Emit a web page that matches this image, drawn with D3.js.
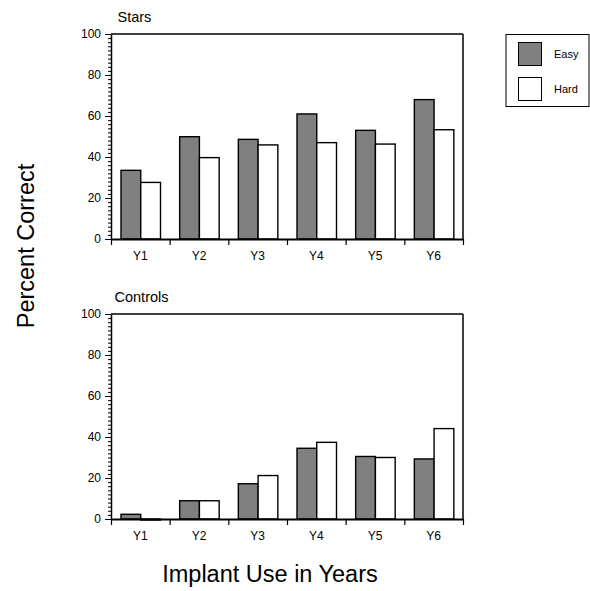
<!DOCTYPE html>
<html><head><meta charset="utf-8">
<script src="https://cdn.jsdelivr.net/npm/d3@7"></script>
<style>body{margin:0;background:#fff}svg{display:block}text{font-family:"Liberation Sans",Arial,sans-serif}</style>
</head><body><div id="chart"></div>
<script>
const categories = ["Y1","Y2","Y3","Y4","Y5","Y6"];
const seriesNames = ["Easy","Hard"];
const starsEasy = [33.5, 49.9, 48.6, 61.0, 53.0, 68.0];
const starsHard = [27.6, 39.7, 45.9, 47.0, 46.3, 53.3];
const controlsEasy = [2.3, 8.9, 17.2, 34.5, 30.5, 29.3];
const controlsHard = [-0.5, 8.9, 21.2, 37.4, 30.0, 44.1];
const yTicks = [0, 20, 40, 60, 80, 100];
const panelTitles = ["Stars", "Controls"];
const colors = {Easy: "#808080", Hard: "#ffffff"};

const W = 590, H = 591;
const svg = d3.select("#chart").append("svg").attr("width", W).attr("height", H);

const left = 111, right = 463;
const panels = [
  {title: panelTitles[0], easy: starsEasy, hard: starsHard, top: 34, bottom: 239, titleX: 117.5, titleY: 22},
  {title: panelTitles[1], easy: controlsEasy, hard: controlsHard, top: 314, bottom: 519, titleX: 114.5, titleY: 302}
];

const x = d3.scaleBand().domain(categories).range([left, right]).paddingInner(0).paddingOuter(0);
const xIdx = d3.scaleLinear().domain([0, categories.length]).range([left, right]);
const xs = d3.scaleBand().domain(seriesNames).range([10, 10 + 39.5]).padding(0);

panels.forEach(p => {
  const y = d3.scaleLinear().domain([0, 100]).range([p.bottom, p.top]);
  const g = svg.append("g");

  // frame top & right
  g.append("line").attr("x1", left).attr("x2", right).attr("y1", y(100)).attr("y2", y(100)).attr("stroke", "#000").attr("stroke-width", 1.5);
  g.append("line").attr("x1", right).attr("x2", right).attr("y1", y(100)).attr("y2", y(0)).attr("stroke", "#000").attr("stroke-width", 1.5);

  // bars
  const data = [];
  categories.forEach((c, i) => {
    data.push({c, s: "Easy", v: p.easy[i]});
    data.push({c, s: "Hard", v: p.hard[i]});
  });
  g.selectAll("rect.bar").data(data).join("rect")
    .attr("class", "bar")
    .attr("x", d => x(d.c) + xs(d.s))
    .attr("width", xs.bandwidth())
    .attr("y", d => y(Math.max(0, d.v)))
    .attr("height", d => Math.abs(y(d.v) - y(0)))
    .attr("fill", d => colors[d.s])
    .attr("stroke", "#000").attr("stroke-width", 1.4);

  // minor y ticks
  const minor = d3.range(0, 101, 2);
  const yMinor = g.append("g").attr("transform", `translate(${left},0)`)
    .call(d3.axisLeft(y).tickValues(minor).tickSize(3).tickFormat(""));
  yMinor.select(".domain").remove();
  yMinor.selectAll("line").attr("stroke-width", 1);

  // major y axis
  const yAx = g.append("g").attr("transform", `translate(${left},0)`)
    .call(d3.axisLeft(y).tickValues(yTicks).tickSize(6).tickPadding(4).tickSizeOuter(0));
  yAx.select(".domain").attr("stroke-width", 1.5);
  yAx.selectAll("text").attr("font-size", 12).attr("fill", "#000").attr("font-family", '"Liberation Sans",Arial,sans-serif');

  // x axis boundary ticks
  const xAx = g.append("g").attr("transform", `translate(0,${y(0)})`)
    .call(d3.axisBottom(xIdx).tickValues(d3.range(0, categories.length + 1)).tickSize(6).tickFormat("").tickSizeOuter(0));
  xAx.select(".domain").attr("stroke-width", 2);
  xAx.selectAll("line").attr("stroke-width", 1.2);

  // x labels
  const xLab = g.append("g").attr("transform", `translate(0,${y(0)})`)
    .call(d3.axisBottom(x).tickSize(0).tickPadding(12));
  xLab.select(".domain").remove();
  xLab.selectAll("text").attr("font-size", 12).attr("fill", "#000").attr("font-family", '"Liberation Sans",Arial,sans-serif');

  // title
  g.append("text").attr("x", p.titleX).attr("y", p.titleY).attr("font-size", 14.5).text(p.title);
});

// axis titles
svg.append("text").attr("transform", "translate(34,246) rotate(-90)").attr("text-anchor", "middle")
  .attr("font-size", 23.5).text("Percent Correct");
svg.append("text").attr("x", 270).attr("y", 582).attr("text-anchor", "middle")
  .attr("font-size", 23.5).text("Implant Use in Years");

// legend
const lg = svg.append("g");
lg.append("rect").attr("x", 506).attr("y", 34.5).attr("width", 83).attr("height", 72).attr("fill", "#fff").attr("stroke", "#000").attr("stroke-width", 1);
seriesNames.forEach((s, i) => {
  const yy = [42.5, 77.5][i];
  lg.append("rect").attr("x", 518.5).attr("y", yy).attr("width", 23).attr("height", 23)
    .attr("fill", colors[s]).attr("stroke", "#000").attr("stroke-width", 1);
  lg.append("text").attr("x", 554).attr("y", yy + 11.5).attr("dy", "0.35em").attr("font-size", 11).text(s);
});
</script></body></html>
